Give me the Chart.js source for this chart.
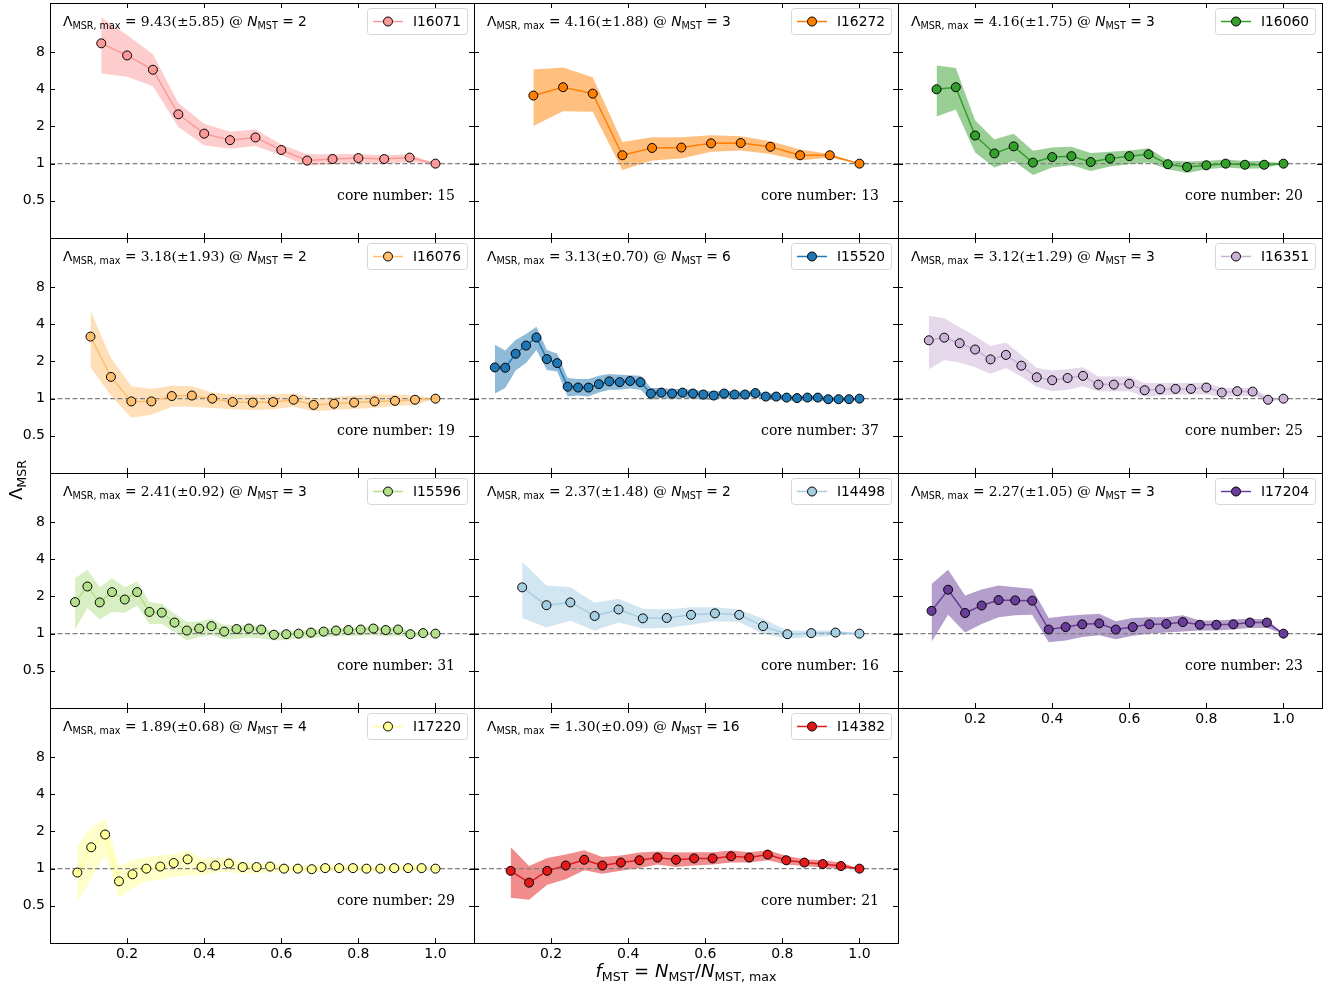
<!DOCTYPE html>
<html>
<head>
<meta charset="utf-8">
<script src="https://cdn.jsdelivr.net/npm/chart.js@4.4.0/dist/chart.umd.min.js"></script>
<style>
  body { margin: 0; background: #fff; }
  #fig { position: relative; width: 1335px; height: 990px; overflow: hidden; background: #fff; }
  #fig canvas { position: absolute; }
  .note { position: absolute; white-space: nowrap; font-family: 'DejaVu Serif'; font-size: 13.8px; line-height: 16px; color: #000; }
  .m { font-family: 'DejaVu Sans'; }
  .note sub { font-family: 'DejaVu Sans'; font-size: 9.6px; vertical-align: -3px; line-height: 0; }
  .core { font-size: 14px; }
  .axlab { position: absolute; white-space: nowrap; font-family: 'DejaVu Sans'; font-size: 18px; line-height: 22px; color: #000; }
  .axlab sub { font-size: 12.6px; vertical-align: -4px; line-height: 0; }
</style>
</head>
<body>
<div id="fig"></div>
<script>
// axis ticks
const yTicks = [0.5, 1, 2, 4, 8];
const xTicks = [0.2, 0.4, 0.6, 0.8, 1.0];

// panel labels, in reading order
const sourceNames = ['I16071', 'I16272', 'I16060', 'I16076', 'I15520', 'I16351', 'I15596', 'I14498', 'I17204', 'I17220', 'I14382'];
const seriesColors = ['#fb9a99', '#ff7f00', '#33a02c', '#fdbf6f', '#1f78b4', '#cab2d6', '#b2df8a', '#a6cee3', '#6a3d9a', '#ffff99', '#e31a1c'];
const lamMax = ['9.43', '4.16', '4.16', '3.18', '3.13', '3.12', '2.41', '2.37', '2.27', '1.89', '1.30'];
const lamErr = ['5.85', '1.88', '1.75', '1.93', '0.70', '1.29', '0.92', '1.48', '1.05', '0.68', '0.09'];
const nAtMax = [2, 3, 3, 2, 6, 3, 3, 2, 3, 4, 16];
const coreNumbers = [15, 13, 20, 19, 37, 25, 31, 16, 23, 29, 21];

// I16071
const fI16071 = [0.133, 0.200, 0.267, 0.333, 0.400, 0.467, 0.533, 0.600, 0.667, 0.733, 0.800, 0.867, 0.933, 1.000];
const vI16071 = [9.43, 7.52, 5.76, 2.51, 1.75, 1.55, 1.63, 1.29, 1.06, 1.09, 1.11, 1.09, 1.12, 1.00];
const hiI16071 = [15.3, 11.0, 7.70, 3.10, 2.10, 1.81, 1.89, 1.43, 1.19, 1.19, 1.20, 1.17, 1.19, 1.00];
const loI16071 = [5.38, 5.06, 4.23, 1.98, 1.41, 1.32, 1.39, 1.17, 0.96, 0.99, 1.01, 1.00, 1.03, 1.00];

// I16272
const fI16272 = [0.154, 0.231, 0.308, 0.385, 0.462, 0.538, 0.615, 0.692, 0.769, 0.846, 0.923, 1.000];
const vI16272 = [3.56, 4.16, 3.69, 1.17, 1.34, 1.35, 1.46, 1.47, 1.37, 1.17, 1.17, 1.00];
const hiI16272 = [5.80, 6.02, 5.00, 1.50, 1.64, 1.64, 1.70, 1.67, 1.52, 1.30, 1.20, 1.00];
const loI16272 = [2.02, 2.66, 2.63, 0.89, 1.06, 1.10, 1.25, 1.28, 1.20, 1.06, 1.12, 1.00];

// I16060
const fI16060 = [0.10, 0.15, 0.20, 0.25, 0.30, 0.35, 0.40, 0.45, 0.50, 0.55, 0.60, 0.65, 0.70, 0.75, 0.80, 0.85, 0.90, 0.95, 1.00];
const vI16060 = [4.00, 4.16, 1.69, 1.21, 1.38, 1.02, 1.13, 1.15, 1.03, 1.10, 1.15, 1.19, 0.99, 0.94, 0.97, 1.00, 0.98, 0.98, 1.00];
const hiI16060 = [6.25, 5.94, 2.25, 1.57, 1.75, 1.27, 1.35, 1.37, 1.22, 1.25, 1.28, 1.33, 1.06, 1.04, 1.05, 1.08, 1.05, 1.05, 1.00];
const loI16060 = [2.41, 2.74, 1.23, 0.93, 1.05, 0.81, 0.93, 0.97, 0.87, 0.95, 0.99, 1.02, 0.90, 0.84, 0.90, 0.93, 0.91, 0.92, 1.00];

// I16076
const fI16076 = [0.105, 0.158, 0.211, 0.263, 0.316, 0.368, 0.421, 0.474, 0.526, 0.579, 0.632, 0.684, 0.737, 0.789, 0.842, 0.895, 0.947, 1.000];
const vI16076 = [3.18, 1.50, 0.95, 0.95, 1.05, 1.06, 1.00, 0.94, 0.93, 0.94, 0.98, 0.89, 0.91, 0.93, 0.95, 0.96, 0.98, 1.00];
const hiI16076 = [5.16, 2.13, 1.26, 1.20, 1.27, 1.26, 1.12, 1.08, 1.08, 1.08, 1.10, 1.01, 1.03, 1.06, 1.08, 1.08, 1.06, 1.00];
const loI16076 = [1.80, 1.06, 0.70, 0.74, 0.86, 0.86, 0.84, 0.82, 0.81, 0.82, 0.86, 0.79, 0.81, 0.83, 0.84, 0.87, 0.89, 1.00];

// I15520
const fI15520 = [0.054, 0.081, 0.108, 0.135, 0.162, 0.189, 0.216, 0.243, 0.270, 0.297, 0.324, 0.351, 0.378, 0.405, 0.432, 0.459, 0.486, 0.514,
  0.541, 0.568, 0.595, 0.622, 0.649, 0.676, 0.703, 0.730, 0.757, 0.784, 0.811, 0.838, 0.865, 0.892, 0.919, 0.946, 0.973, 1.000];
const vI15520 = [1.79, 1.78, 2.31, 2.69, 3.13, 2.09, 1.94, 1.25, 1.23, 1.23, 1.31, 1.38, 1.36, 1.39, 1.36, 1.10, 1.12, 1.10,
  1.12, 1.10, 1.08, 1.06, 1.10, 1.08, 1.08, 1.11, 1.04, 1.04, 1.02, 1.01, 1.02, 1.02, 0.99, 0.99, 0.99, 1.00];
const hiI15520 = [2.73, 2.45, 2.99, 3.34, 3.83, 2.48, 2.31, 1.47, 1.44, 1.44, 1.53, 1.58, 1.56, 1.55, 1.53, 1.22, 1.22, 1.20,
  1.20, 1.18, 1.16, 1.15, 1.16, 1.15, 1.14, 1.16, 1.10, 1.10, 1.06, 1.06, 1.06, 1.06, 1.03, 1.03, 1.02, 1.00];
const loI15520 = [1.10, 1.22, 1.69, 1.94, 2.48, 1.71, 1.66, 1.04, 1.06, 1.04, 1.12, 1.18, 1.18, 1.21, 1.18, 0.98, 1.01, 0.99,
  1.01, 1.00, 0.98, 0.98, 1.01, 1.00, 1.01, 1.03, 0.97, 0.98, 0.96, 0.96, 0.96, 0.96, 0.95, 0.95, 0.95, 1.00];

// I16351
const fI16351 = [0.08, 0.12, 0.16, 0.20, 0.24, 0.28, 0.32, 0.36, 0.40, 0.44, 0.48, 0.52, 0.56, 0.60, 0.64, 0.68, 0.72, 0.76, 0.80, 0.84, 0.88, 0.92, 0.96, 1.00];
const vI16351 = [2.97, 3.12, 2.81, 2.50, 2.08, 2.26, 1.85, 1.49, 1.41, 1.47, 1.53, 1.30, 1.30, 1.32, 1.17, 1.19, 1.20, 1.20, 1.23, 1.12, 1.15, 1.14, 0.98, 1.00];
const hiI16351 = [4.70, 4.47, 3.78, 3.22, 2.67, 2.85, 2.26, 1.77, 1.69, 1.73, 1.80, 1.51, 1.51, 1.51, 1.34, 1.34, 1.34, 1.34, 1.35, 1.22, 1.22, 1.22, 1.03, 1.00];
const loI16351 = [1.73, 2.06, 1.96, 1.80, 1.59, 1.77, 1.51, 1.24, 1.15, 1.18, 1.26, 1.15, 1.15, 1.15, 1.04, 1.06, 1.08, 1.08, 1.08, 1.04, 1.04, 1.06, 0.93, 1.00];

// I15596
const fI15596 = [0.065, 0.097, 0.129, 0.161, 0.194, 0.226, 0.258, 0.290, 0.323, 0.355, 0.387, 0.419, 0.452, 0.484, 0.516,
  0.548, 0.581, 0.613, 0.645, 0.677, 0.710, 0.742, 0.774, 0.806, 0.839, 0.871, 0.903, 0.935, 0.968, 1.000];
const vI15596 = [1.80, 2.41, 1.79, 2.17, 1.89, 2.17, 1.50, 1.48, 1.23, 1.06, 1.10, 1.15, 1.04, 1.09, 1.10,
  1.08, 0.98, 0.99, 1.00, 1.02, 1.04, 1.06, 1.07, 1.08, 1.10, 1.07, 1.08, 0.99, 1.01, 1.00];
const hiI15596 = [2.81, 3.30, 2.38, 2.81, 2.38, 2.64, 1.80, 1.75, 1.45, 1.24, 1.26, 1.32, 1.17, 1.17, 1.18,
  1.15, 1.04, 1.04, 1.06, 1.08, 1.10, 1.11, 1.12, 1.13, 1.15, 1.13, 1.13, 1.03, 1.03, 1.00];
const loI15596 = [1.08, 1.61, 1.31, 1.50, 1.48, 1.69, 1.20, 1.20, 1.03, 0.88, 0.94, 0.97, 0.90, 0.91, 0.93,
  0.92, 0.88, 0.89, 0.91, 0.92, 0.94, 0.95, 0.96, 0.96, 0.97, 0.95, 0.96, 0.93, 0.95, 1.00];

// I14498
const fI14498 = [0.125, 0.188, 0.250, 0.313, 0.375, 0.438, 0.500, 0.563, 0.625, 0.688, 0.750, 0.813, 0.875, 0.938, 1.000];
const vI14498 = [2.37, 1.70, 1.79, 1.39, 1.57, 1.33, 1.34, 1.42, 1.46, 1.42, 1.15, 0.99, 1.01, 1.02, 1.00];
const hiI14498 = [3.83, 2.45, 2.38, 1.78, 1.92, 1.59, 1.57, 1.64, 1.64, 1.57, 1.32, 1.06, 1.06, 1.06, 1.00];
const loI14498 = [1.34, 1.12, 1.27, 1.06, 1.23, 1.10, 1.11, 1.18, 1.26, 1.24, 1.00, 0.91, 0.94, 0.96, 1.00];

// I17204
const fI17204 = [0.087, 0.130, 0.174, 0.217, 0.261, 0.304, 0.348, 0.391, 0.435, 0.478, 0.522, 0.565, 0.609, 0.652, 0.696, 0.739, 0.783, 0.826, 0.870, 0.913, 0.957, 1.000];
const vI17204 = [1.53, 2.27, 1.47, 1.69, 1.87, 1.86, 1.85, 1.08, 1.13, 1.19, 1.21, 1.08, 1.13, 1.19, 1.20, 1.24, 1.18, 1.18, 1.19, 1.23, 1.23, 1.00];
const hiI17204 = [2.53, 3.30, 2.04, 2.28, 2.45, 2.38, 2.31, 1.34, 1.39, 1.42, 1.45, 1.26, 1.34, 1.36, 1.36, 1.41, 1.28, 1.28, 1.30, 1.32, 1.31, 1.00];
const loI17204 = [0.86, 1.42, 1.02, 1.20, 1.36, 1.41, 1.42, 0.85, 0.88, 0.94, 0.97, 0.90, 0.96, 1.00, 1.02, 1.04, 1.06, 1.06, 1.08, 1.11, 1.11, 1.00];

// I17220
const fI17220 = [0.071, 0.107, 0.143, 0.179, 0.214, 0.250, 0.286, 0.321, 0.357, 0.393, 0.429, 0.464, 0.500, 0.536,
  0.571, 0.607, 0.643, 0.679, 0.714, 0.750, 0.786, 0.821, 0.857, 0.893, 0.929, 0.964, 1.000];
const vI17220 = [0.93, 1.49, 1.89, 0.79, 0.90, 1.00, 1.04, 1.11, 1.19, 1.03, 1.06, 1.10, 1.03, 1.03,
  1.04, 1.00, 1.00, 0.99, 1.01, 1.01, 1.01, 1.00, 1.00, 1.01, 1.01, 1.01, 1.00];
const hiI17220 = [1.52, 2.17, 2.56, 1.05, 1.17, 1.24, 1.28, 1.32, 1.41, 1.22, 1.22, 1.24, 1.13, 1.10,
  1.12, 1.08, 1.06, 1.06, 1.08, 1.08, 1.08, 1.06, 1.06, 1.08, 1.08, 1.08, 1.00];
const loI17220 = [0.54, 0.83, 1.30, 0.58, 0.69, 0.79, 0.81, 0.86, 0.88, 0.88, 0.93, 0.94, 0.91, 0.91,
  0.93, 0.93, 0.94, 0.93, 0.95, 0.95, 0.95, 0.94, 0.94, 0.95, 0.95, 0.96, 1.00];

// I14382
const fI14382 = [0.095, 0.143, 0.190, 0.238, 0.286, 0.333, 0.381, 0.429, 0.476, 0.524, 0.571, 0.619, 0.667, 0.714, 0.762, 0.810, 0.857, 0.905, 0.952, 1.000];
const vI14382 = [0.96, 0.77, 0.96, 1.06, 1.18, 1.06, 1.12, 1.17, 1.23, 1.18, 1.21, 1.21, 1.26, 1.23, 1.30, 1.17, 1.12, 1.09, 1.05, 1.00];
const hiI14382 = [1.50, 1.05, 1.22, 1.30, 1.41, 1.24, 1.28, 1.35, 1.38, 1.35, 1.36, 1.36, 1.40, 1.36, 1.41, 1.27, 1.19, 1.17, 1.12, 1.00];
const loI14382 = [0.58, 0.56, 0.74, 0.82, 0.97, 0.91, 0.96, 1.01, 1.08, 1.03, 1.06, 1.08, 1.12, 1.12, 1.17, 1.08, 1.05, 1.02, 1.00, 1.00];

const fVals = [fI16071, fI16272, fI16060, fI16076, fI15520, fI16351, fI15596, fI14498, fI17204, fI17220, fI14382];
const lamVals = [vI16071, vI16272, vI16060, vI16076, vI15520, vI16351, vI15596, vI14498, vI17204, vI17220, vI14382];
const lamHi = [hiI16071, hiI16272, hiI16060, hiI16076, hiI15520, hiI16351, hiI15596, hiI14498, hiI17204, hiI17220, hiI14382];
const lamLo = [loI16071, loI16272, loI16060, loI16076, loI15520, loI16351, loI15596, loI14498, loI17204, loI17220, loI14382];

Chart.defaults.font.family = 'DejaVu Sans';
Chart.defaults.font.size = 14;
Chart.defaults.color = '#000';

function withAlpha(hex, a) {
  const n = parseInt(hex.slice(1), 16);
  return `rgba(${n >> 16},${(n >> 8) & 255},${n & 255},${a})`;
}

// box round each panel plus ticks pointing inwards
const framePlugin = {
  id: 'frame',
  afterDatasetsDraw(chart) {
    const { ctx, chartArea: a, scales: { x, y } } = chart;
    ctx.save();
    ctx.strokeStyle = '#000';
    ctx.lineWidth = 1;
    ctx.strokeRect(a.left + 0.5, a.top + 0.5, a.right - a.left, a.bottom - a.top);
    ctx.beginPath();
    x.ticks.forEach(t => {
      const p = Math.round(x.getPixelForValue(t.value)) + 0.5;
      ctx.moveTo(p, a.top); ctx.lineTo(p, a.top + 5);
      ctx.moveTo(p, a.bottom); ctx.lineTo(p, a.bottom - 5);
    });
    y.ticks.forEach(t => {
      const p = Math.round(y.getPixelForValue(t.value)) + 0.5;
      ctx.moveTo(a.left, p); ctx.lineTo(a.left + 5, p);
      ctx.moveTo(a.right, p); ctx.lineTo(a.right - 5, p);
    });
    ctx.stroke();
    ctx.restore();
  }
};

// matplotlib-like legend box in the upper right corner
const boxLegend = {
  id: 'boxLegend',
  afterDraw(chart, args, opts) {
    const { ctx, chartArea: a } = chart;
    const bw = 100, bh = 26;
    const bx = a.right - 7 - bw, by = a.top + 5;
    ctx.save();
    ctx.beginPath();
    ctx.roundRect(bx + 0.5, by + 0.5, bw, bh, 3);
    ctx.fillStyle = 'rgba(255,255,255,0.8)';
    ctx.fill();
    ctx.strokeStyle = '#d6d6d6';
    ctx.lineWidth = 1;
    ctx.stroke();
    const cy = by + bh / 2 + 0.5;
    ctx.beginPath();
    ctx.moveTo(bx + 6, cy); ctx.lineTo(bx + 36, cy);
    ctx.strokeStyle = opts.color;
    ctx.lineWidth = 1.5;
    ctx.stroke();
    ctx.beginPath();
    ctx.arc(bx + 21, cy, 4.5, 0, Math.PI * 2);
    ctx.fillStyle = opts.color;
    ctx.fill();
    ctx.strokeStyle = '#000';
    ctx.lineWidth = 1;
    ctx.stroke();
    ctx.fillStyle = '#000';
    ctx.font = '13.8px "DejaVu Sans"';
    ctx.textBaseline = 'middle';
    ctx.fillText(opts.text, bx + 46, cy + 1);
    ctx.restore();
  }
};

const fig = document.getElementById('fig');
const colX = [50, 474, 898], rowY = [3, 238, 473, 708];
const W = 424, H = 235;
const PADL = 50, PADT = 16, PADR = 14, PADB = 30;

sourceNames.forEach((name, i) => {
  const r = Math.floor(i / 3), c = i % 3;
  const px = colX[c], py = rowY[r];
  const showY = c === 0;
  const showX = i >= 8;
  const col = seriesColors[i];

  const cv = document.createElement('canvas');
  cv.width = PADL + W + PADR;
  cv.height = PADT + H + PADB;
  cv.style.width = cv.width + 'px';
  cv.style.height = cv.height + 'px';
  cv.style.left = (px - PADL) + 'px';
  cv.style.top = (py - PADT) + 'px';
  fig.appendChild(cv);

  const pts = ys => fVals[i].map((f, k) => ({ x: f, y: ys[k] }));

  new Chart(cv, {
    type: 'line',
    data: {
      datasets: [
        {
          data: pts(lamVals[i]), borderColor: col, borderWidth: 1.5,
          pointRadius: 4.5, pointBackgroundColor: col, pointBorderColor: '#000', pointBorderWidth: 1,
          fill: false
        },
        {
          data: [{ x: 0, y: 1 }, { x: 1.1, y: 1 }], borderColor: '#808080', borderWidth: 1.2,
          borderDash: [5, 2.5], pointRadius: 0, fill: false
        },
        {
          data: pts(lamHi[i]), borderColor: 'transparent', borderWidth: 0, pointRadius: 0,
          backgroundColor: withAlpha(col, 0.5), fill: '+1'
        },
        {
          data: pts(lamLo[i]), borderColor: 'transparent', borderWidth: 0, pointRadius: 0, fill: false
        }
      ]
    },
    options: {
      responsive: false,
      animation: false,
      devicePixelRatio: 1,
      events: [],
      layout: { padding: { left: 0, top: PADT, right: PADR, bottom: 0 } },
      plugins: {
        legend: { display: false },
        tooltip: { enabled: false },
        boxLegend: { color: col, text: name }
      },
      scales: {
        x: {
          type: 'linear', min: 0, max: 1.1,
          grid: { display: false, drawTicks: false }, border: { display: false },
          afterBuildTicks: s => { s.ticks = xTicks.map(v => ({ value: v })); },
          afterFit: s => { s.height = PADB; },
          ticks: { display: showX, padding: 3, font: { size: 14 }, callback: v => Number(v).toFixed(1) }
        },
        y: {
          type: 'logarithmic', min: 0.25, max: 20,
          grid: { display: false, drawTicks: false }, border: { display: false },
          afterBuildTicks: s => { s.ticks = yTicks.map(v => ({ value: v })); },
          afterFit: s => { s.width = PADL; },
          ticks: { display: showY, padding: 5, font: { size: 14 }, callback: v => String(v) }
        }
      }
    },
    plugins: [framePlugin, boxLegend]
  });

  const note = document.createElement('div');
  note.className = 'note';
  note.style.left = (px + 13) + 'px';
  note.style.top = (py + 10) + 'px';
  note.innerHTML = `<span class="m">Λ<sub>MSR, max</sub> = </span>${lamMax[i]}(±${lamErr[i]}) @ ` +
    `<span class="m"><i>N</i><sub>MST</sub> = ${nAtMax[i]}</span>`;
  fig.appendChild(note);

  const core = document.createElement('div');
  core.className = 'note core';
  core.style.left = (px + W - 19) + 'px';
  core.style.top = (py + 184) + 'px';
  core.style.transform = 'translateX(-100%)';
  core.textContent = `core number: ${coreNumbers[i]}`;
  fig.appendChild(core);
});

// figure-level axis labels
const ylab = document.createElement('div');
ylab.className = 'axlab';
ylab.innerHTML = 'Λ<sub>MSR</sub>';
ylab.style.left = '16px';
ylab.style.top = '480px';
ylab.style.transform = 'translate(-50%, -50%) rotate(-90deg)';
fig.appendChild(ylab);

const xlab = document.createElement('div');
xlab.className = 'axlab';
xlab.innerHTML = '<i>f</i><sub>MST</sub> = <i>N</i><sub>MST</sub>/<i>N</i><sub>MST, max</sub>';
xlab.style.left = '686px';
xlab.style.top = '960px';
xlab.style.transform = 'translateX(-50%)';
fig.appendChild(xlab);
</script>
</body>
</html>
